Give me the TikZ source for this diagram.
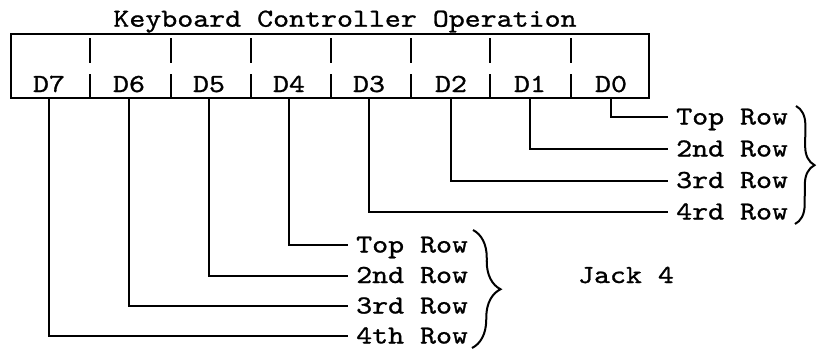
\documentclass[tikz,border=0pt]{standalone}
\usepackage{fontspec}
\usepackage{graphicx}
\usetikzlibrary{decorations.pathreplacing}
\newfontfamily\twfont{lmmono10-regular.otf}[FakeBold=0.9]
\newcommand{\twtxt}[1]{\scalebox{1.17}[1]{#1}}
\tikzset{
  every node/.style={font=\fontsize{26}{30}\selectfont\twfont, inner sep=0pt},
  wire/.style={line width=2pt, line cap=rect},
  rowlabel/.style={anchor=west, text height=15pt, text depth=0pt, inner xsep=9pt, inner ysep=0pt},
  dlabel/.style={anchor=base},
  bigbrace/.style={line width=2pt, decorate, decoration={brace, amplitude=#1, aspect=0.5}}
}
\begin{document}
\begin{tikzpicture}[x=1pt, y=-1pt]
\useasboundingbox (0,0) rectangle (818,348);
% title
\node[anchor=base] (title) at (345,26.7) {\twtxt{Keyboard Controller Operation}};
% register box
\node[draw, line width=2pt, anchor=north west, minimum width=638pt, minimum height=64pt] (box) at (10,33) {};
\foreach \sx in {90,171,251,331,411,490,571}{
  \draw[line width=1.6pt] (\sx,38) -- (\sx,63);
  \draw[line width=1.6pt] (\sx,74) -- (\sx,97);
}
% bit labels
\node[dlabel] (d7) at (49,92) {\twtxt{D7}};
\node[dlabel] (d6) at (129,92) {\twtxt{D6}};
\node[dlabel] (d5) at (209,92) {\twtxt{D5}};
\node[dlabel] (d4) at (289,92) {\twtxt{D4}};
\node[dlabel] (d3) at (369,92) {\twtxt{D3}};
\node[dlabel] (d2) at (451,92) {\twtxt{D2}};
\node[dlabel] (d1) at (530,92) {\twtxt{D1}};
\node[dlabel] (d0) at (611,92) {\twtxt{D0}};
% right group of row labels
\node[rowlabel] (ra) at (667,117) {\twtxt{Top Row}};
\node[rowlabel] (rb) at (667,149) {\twtxt{2nd Row}};
\node[rowlabel] (rc) at (667,180.5) {\twtxt{3rd Row}};
\node[rowlabel] (rd) at (667,212) {\twtxt{4rd Row}};
% left group of row labels
\node[rowlabel] (la) at (347,245) {\twtxt{Top Row}};
\node[rowlabel] (lb) at (347,275.5) {\twtxt{2nd Row}};
\node[rowlabel] (lc) at (347,306) {\twtxt{3rd Row}};
\node[rowlabel] (ld) at (347,336) {\twtxt{4th Row}};
% connectors
\draw[wire] (d0 |- box.south) |- (ra.west);
\draw[wire] (d1 |- box.south) |- (rb.west);
\draw[wire] (d2 |- box.south) |- (rc.west);
\draw[wire] (d3 |- box.south) |- (rd.west);
\draw[wire] (d4 |- box.south) |- (la.west);
\draw[wire] (d5 |- box.south) |- (lb.west);
\draw[wire] (d6 |- box.south) |- (lc.west);
\draw[wire] (d7 |- box.south) |- (ld.west);
% braces
\coordinate (rbtop) at (796,106);
\coordinate (rbbot) at (795,224);
\draw[bigbrace=19pt] (rbtop) -- (rbbot);
\coordinate (lbtop) at (473,230);
\coordinate (lbbot) at (472,348);
\draw[bigbrace=28pt] (lbtop) -- (lbbot);
% jack label
\node[anchor=base] (jack) at (626,283) {\twtxt{Jack 4}};
\end{tikzpicture}
\end{document}
